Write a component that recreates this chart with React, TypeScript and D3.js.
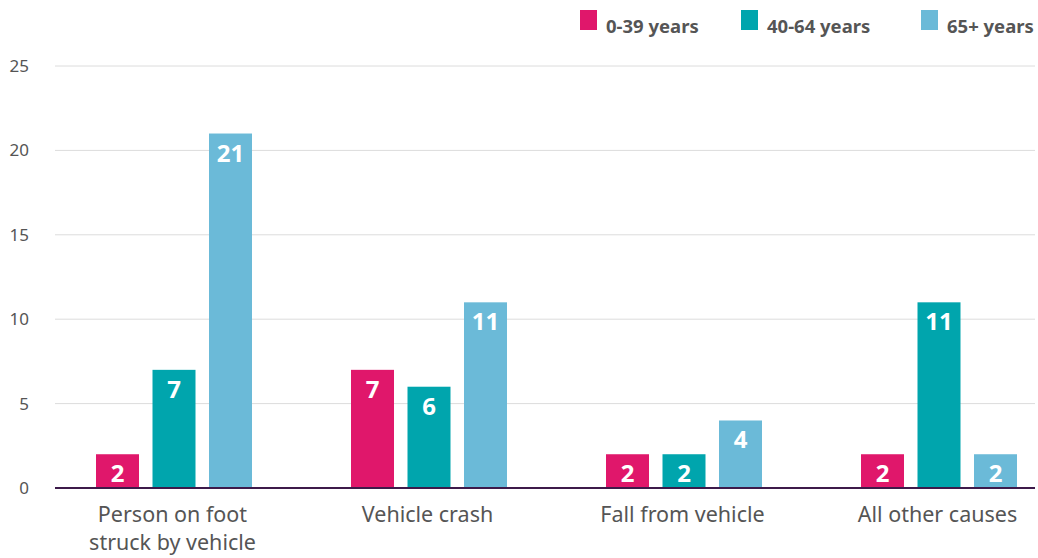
import React from 'react';
import { scaleBand, scaleLinear } from 'd3';

const categories = [['Person on foot', 'struck by vehicle'], ['Vehicle crash'], ['Fall from vehicle'], ['All other causes']];
const seriesNames = ['0-39 years', '40-64 years', '65+ years'];
const young = [2, 7, 2, 2];
const middle = [7, 6, 2, 11];
const older = [21, 11, 4, 2];
const yTicks = [0, 5, 10, 15, 20, 25];

const colors = ['#E0176B', '#00A5AD', '#6BBAD8'];
const font = "'Noto Sans', sans-serif";

function App() {
  const width = 1038;
  const height = 558;
  const series = [young, middle, older];

  const x = scaleBand<number>().domain([0, 1, 2, 3]).range([47, 1067]);
  const inner = scaleBand<number>().domain([0, 1, 2]).range([-1, 155]).paddingInner(0.239);
  const y = scaleLinear().domain([0, 25]).range([488, 66]);

  const legendX = [580, 741, 921];

  return (
    <svg width={width} height={height} style={{ position: 'absolute', left: 0, top: 0 }}>
      {yTicks.map(t => (
        <g key={t}>
          {t > 0 && <line x1={55} x2={1035} y1={y(t)} y2={y(t)} stroke="#dcdcdc" strokeWidth={1} />}
          <text x={29} y={y(t) + 6} textAnchor="end" fontFamily={font} fontSize={17} fill="#555">{t}</text>
        </g>
      ))}
      {series.map((vals, s) =>
        vals.map((v, i) => {
          const bx = (x(i) as number) + 50 + (inner(s) as number);
          const by = y(v);
          return (
            <g key={`${s}-${i}`}>
              <rect x={bx} y={by} width={inner.bandwidth()} height={y(0) - by} fill={colors[s]} />
              <text x={bx + inner.bandwidth() / 2} y={by + 28} textAnchor="middle" fontFamily={font}
                fontWeight={700} fontSize={24} fill="#fff">{v}</text>
            </g>
          );
        })
      )}
      <line x1={55} x2={1035} y1={y(0)} y2={y(0)} stroke="#3d1a4a" strokeWidth={2} />
      {categories.map((lines, i) => (
        <text key={i} x={(x(i) as number) + x.bandwidth() / 2 - 2} y={522} textAnchor="middle"
          fontFamily={font} fontSize={21.5} fill="#555">
          {lines.map((l, j) => (
            <tspan key={j} x={(x(i) as number) + x.bandwidth() / 2 - 2} dy={j === 0 ? 0 : 28}>{l}</tspan>
          ))}
        </text>
      ))}
      {seriesNames.map((n, s) => (
        <g key={n}>
          <rect x={legendX[s]} y={10} width={17} height={20} fill={colors[s]} />
          <text x={legendX[s] + 26} y={33} fontFamily={font} fontWeight={700} fontSize={18.5} fill="#555">{n}</text>
        </g>
      ))}
    </svg>
  );
}

export default App;
